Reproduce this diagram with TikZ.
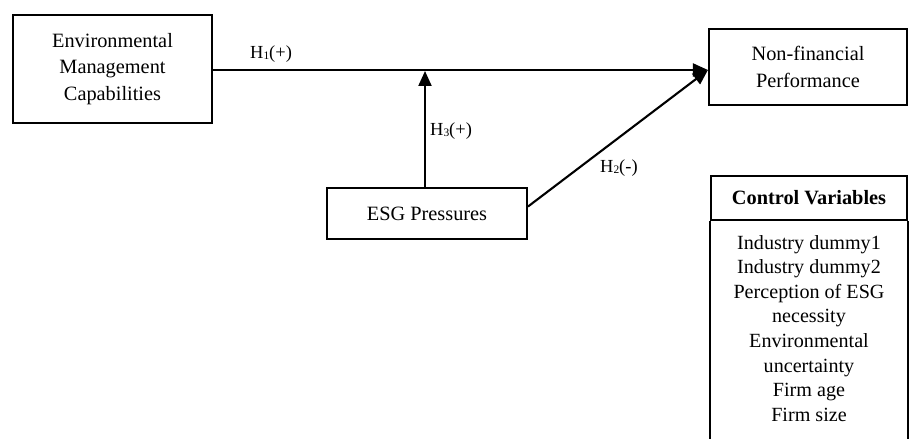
\documentclass[tikz,border=0pt]{standalone}
\usepackage{fontspec}
\setmainfont{Liberation Serif}
\usetikzlibrary{arrows.meta,calc}
\newcommand\sbs[1]{\raisebox{-1.5bp}{\fontsize{11.5}{11.5}\selectfont #1}}
\begin{document}
\begin{tikzpicture}[x=1bp,y=-1bp,
  box/.style={draw,line width=2.1bp,inner sep=0pt,align=center,font=\fontsize{20.4}{26.5}\selectfont},
  conn/.style={line width=2.1bp,-{Triangle[length=15bp,width=13bp]}},
  lab/.style={font=\fontsize{18.5}{22}\selectfont,inner sep=0pt,anchor=west},
  frame/.style={line width=2.1bp}]
\useasboundingbox (0,0) rectangle (909,439);
\node[box,minimum width=199bp,minimum height=108bp] (emc) at (112.5,69) {Environmental\\Management\\Capabilities};
\node[box,minimum width=198bp,minimum height=76bp] (nfp) at (808,67) {Non-financial\\Performance};
\node[box,minimum width=200bp,minimum height=51bp] (esg) at (427,213.5) {ESG Pressures};
\node[box,minimum width=196bp,minimum height=44bp,font=\fontsize{20.4}{22}\selectfont\bfseries] (ctl) at (809,198) {Control Variables};
\node[inner sep=0pt,align=center,anchor=north,font=\fontsize{20.2}{24.7}\selectfont] (ctlbody) at (809,235) {Industry dummy1\\Industry dummy2\\Perception of ESG\\necessity\\Environmental\\uncertainty\\Firm age\\Firm size};
\draw[frame] (ctl.south west) -- ++(0,230);
\draw[frame] (ctl.south east) -- ++(0,230);
\coordinate (tip) at (nfp.west |- 0,70);
\draw[conn] (emc.east |- tip) -- (tip);
\draw[conn] ($(esg.east)+(0,-7)$) -- (tip);
\draw[conn,shorten >=1bp] (esg.north -| 425,0) -- (425,70);
\node[lab] (h1) at (250,54) {H\sbs{1}(+)};
\node[lab] (h3) at (430,131) {H\sbs{3}(+)};
\node[lab] (h2) at (600,168) {H\sbs{2}(-)};
\end{tikzpicture}
\end{document}
